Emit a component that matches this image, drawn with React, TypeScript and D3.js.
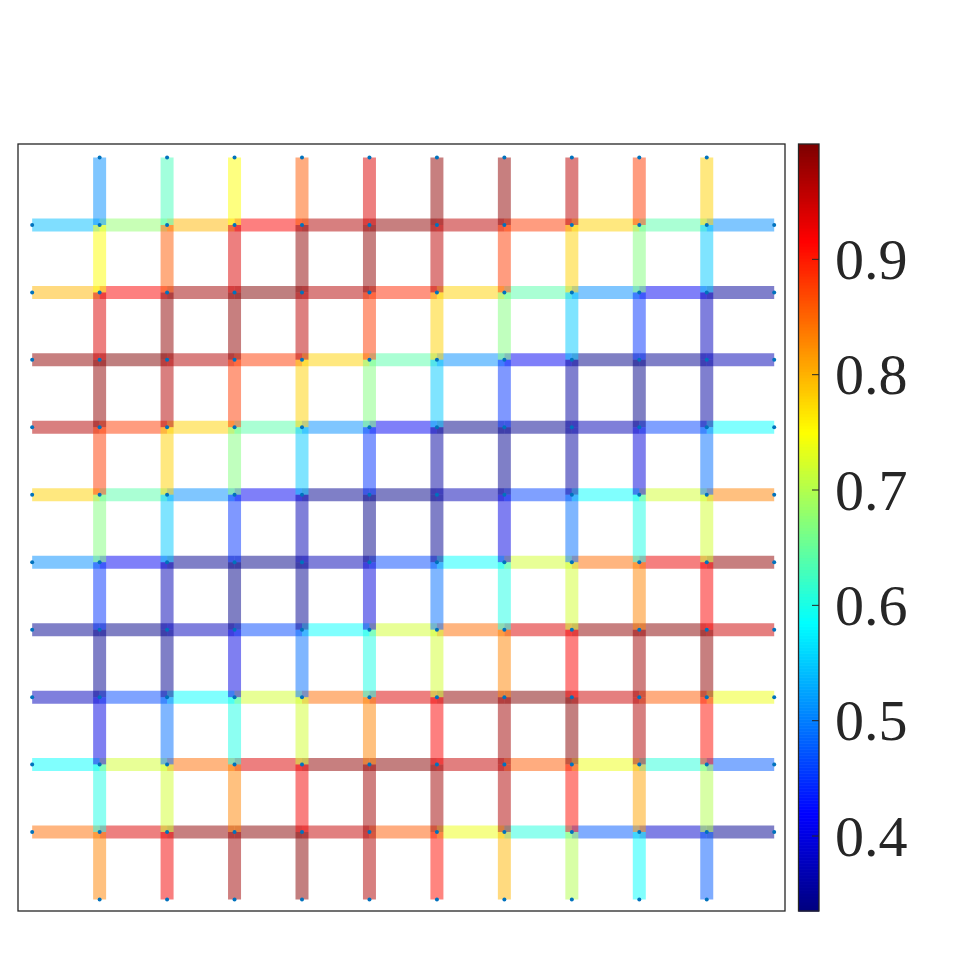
import React from "react";
import * as d3 from "d3";

// Grid nodes: columns 1..10, rows 1..10; segment ends at 0 and 11
const columns = [1, 2, 3, 4, 5, 6, 7, 8, 9, 10];
const rows = [1, 2, 3, 4, 5, 6, 7, 8, 9, 10];

// Horizontal segment values: per row (top to bottom), 11 segments from x=0 to x=11
const horizontalValues = [
  [0.54, 0.68, 0.8, 0.92, 0.97, 0.99, 0.96, 0.88, 0.78, 0.64, 0.51],
  [0.8, 0.92, 0.98, 1.0, 0.965, 0.89, 0.78, 0.64, 0.51, 0.41, 0.35],
  [0.99, 1.0, 0.965, 0.88, 0.78, 0.64, 0.51, 0.41, 0.34, 0.345, 0.37],
  [0.965, 0.88, 0.78, 0.64, 0.51, 0.41, 0.34, 0.345, 0.37, 0.46, 0.585],
  [0.78, 0.64, 0.51, 0.41, 0.345, 0.34, 0.37, 0.46, 0.585, 0.72, 0.834],
  [0.51, 0.41, 0.345, 0.34, 0.37, 0.465, 0.585, 0.72, 0.845, 0.93, 0.99],
  [0.345, 0.34, 0.375, 0.465, 0.585, 0.72, 0.845, 0.94, 0.99, 0.995, 0.95],
  [0.375, 0.465, 0.585, 0.72, 0.845, 0.94, 0.99, 1.0, 0.95, 0.86, 0.74],
  [0.585, 0.72, 0.845, 0.94, 0.99, 0.995, 0.955, 0.86, 0.74, 0.61, 0.475],
  [0.845, 0.94, 0.99, 0.995, 0.955, 0.86, 0.74, 0.605, 0.475, 0.385, 0.345],
];

// Vertical segment values: per column (left to right), 11 segments from y=0 (top) to y=11 (bottom)
const verticalValues = [
  [0.51, 0.75, 0.94, 0.99, 0.88, 0.67, 0.45, 0.345, 0.4, 0.6, 0.83],
  [0.63, 0.86, 0.99, 0.965, 0.78, 0.55, 0.37, 0.345, 0.49, 0.72, 0.925],
  [0.75, 0.94, 0.99, 0.88, 0.67, 0.45, 0.34, 0.4, 0.6, 0.83, 0.98],
  [0.86, 0.99, 0.96, 0.78, 0.55, 0.37, 0.345, 0.49, 0.72, 0.925, 0.995],
  [0.94, 0.99, 0.88, 0.67, 0.45, 0.34, 0.395, 0.6, 0.83, 0.98, 0.97],
  [0.99, 0.96, 0.78, 0.55, 0.355, 0.345, 0.49, 0.72, 0.92, 0.98, 0.91],
  [0.99, 0.88, 0.67, 0.45, 0.345, 0.4, 0.6, 0.83, 0.98, 0.97, 0.8],
  [0.96, 0.78, 0.55, 0.355, 0.355, 0.49, 0.72, 0.92, 0.995, 0.91, 0.7],
  [0.88, 0.67, 0.45, 0.34, 0.395, 0.6, 0.83, 0.98, 0.97, 0.81, 0.585],
  [0.78, 0.55, 0.375, 0.355, 0.49, 0.72, 0.92, 0.99, 0.91, 0.7, 0.475],
];

const colorDomain = [0.335, 1.0];
const colorbarTicks = [0.4, 0.5, 0.6, 0.7, 0.8, 0.9];

function jet(t: number): string {
  const q = Math.round(Math.max(0, Math.min(1, t)) * 255) / 255;
  const c = (v: number) => Math.max(0, Math.min(1, v));
  const r = c(1.5 - Math.abs(4 * q - 3));
  const g = c(1.5 - Math.abs(4 * q - 2));
  const b = c(1.5 - Math.abs(4 * q - 1));
  return d3.rgb(r * 255, g * 255, b * 255).formatHex();
}

export default function App() {
  const x = d3.scaleLinear().domain([-0.21, 11.16]).range([18, 785]);
  const y = d3.scaleLinear().domain([-0.2, 11.17]).range([144, 911]);
  const norm = d3.scaleLinear().domain(colorDomain).range([0, 1]).clamp(true);
  const color = (v: number) => jet(norm(v));

  const cbY = d3.scaleLinear().domain(colorDomain).range([911, 144]);
  const cbX0 = 798.5;
  const cbX1 = 819;
  const nSteps = 256;
  const steps = d3.range(nSteps).map((i) => {
    const v0 = colorDomain[0] + ((colorDomain[1] - colorDomain[0]) * i) / nSteps;
    const v1 = colorDomain[0] + ((colorDomain[1] - colorDomain[0]) * (i + 1)) / nSteps;
    return { v0, v1, c: jet((i + 0.5) / nSteps) };
  });

  const lw = 13;
  const textColor = "#262626";

  const hSegs: any[] = [];
  horizontalValues.forEach((vals, ri) => {
    vals.forEach((v, k) => {
      hSegs.push({ x1: k, x2: k + 1, yv: rows[ri], v });
    });
  });
  const vSegs: any[] = [];
  verticalValues.forEach((vals, ci) => {
    vals.forEach((v, k) => {
      vSegs.push({ xv: columns[ci], y1: k, y2: k + 1, v });
    });
  });

  const dots: [number, number][] = [];
  rows.forEach((r) => {
    dots.push([0, r]);
    dots.push([11, r]);
    columns.forEach((c) => dots.push([c, r]));
  });
  columns.forEach((c) => {
    dots.push([c, 0]);
    dots.push([c, 11]);
  });

  return (
    <svg
      width={960}
      height={960}
      style={{ position: "absolute", left: 0, top: 0, background: "#fff" }}
    >
      <rect x={0} y={0} width={960} height={960} fill="#fff" />
      {hSegs.map((s, i) => (
        <line
          key={"h" + i}
          x1={x(s.x1)}
          x2={x(s.x2)}
          y1={y(s.yv)}
          y2={y(s.yv)}
          stroke={color(s.v)}
          strokeOpacity={0.5}
          strokeWidth={lw}
          strokeLinecap="butt"
        />
      ))}
      {vSegs.map((s, i) => (
        <line
          key={"v" + i}
          x1={x(s.xv)}
          x2={x(s.xv)}
          y1={y(s.y1)}
          y2={y(s.y2)}
          stroke={color(s.v)}
          strokeOpacity={0.5}
          strokeWidth={lw}
          strokeLinecap="butt"
        />
      ))}
      {dots.map((d, i) => (
        <circle key={"d" + i} cx={x(d[0])} cy={y(d[1])} r={2} fill="#0072BD" />
      ))}
      <rect
        x={x(-0.21)}
        y={y(-0.2)}
        width={x(11.16) - x(-0.21)}
        height={y(11.17) - y(-0.2)}
        fill="none"
        stroke={textColor}
        strokeWidth={1.3}
      />
      {/* Colorbar */}
      {steps.map((s, i) => (
        <rect
          key={"cb" + i}
          x={cbX0}
          y={cbY(s.v1)}
          width={cbX1 - cbX0}
          height={cbY(s.v0) - cbY(s.v1) + 0.6}
          fill={s.c}
        />
      ))}
      <rect
        x={cbX0}
        y={cbY(colorDomain[1])}
        width={cbX1 - cbX0}
        height={cbY(colorDomain[0]) - cbY(colorDomain[1])}
        fill="none"
        stroke={textColor}
        strokeWidth={1.3}
      />
      {colorbarTicks.map((t) => (
        <g key={"t" + t}>
          <line
            x1={cbX1 - 7}
            x2={cbX1}
            y1={cbY(t)}
            y2={cbY(t)}
            stroke={textColor}
            strokeWidth={1}
          />
          <text
            x={835}
            y={cbY(t)}
            dy="0.34em"
            fontFamily="'Liberation Serif', 'Times New Roman', serif"
            fontSize={58}
            fill={textColor}
          >
            {t.toFixed(1)}
          </text>
        </g>
      ))}
    </svg>
  );
}
